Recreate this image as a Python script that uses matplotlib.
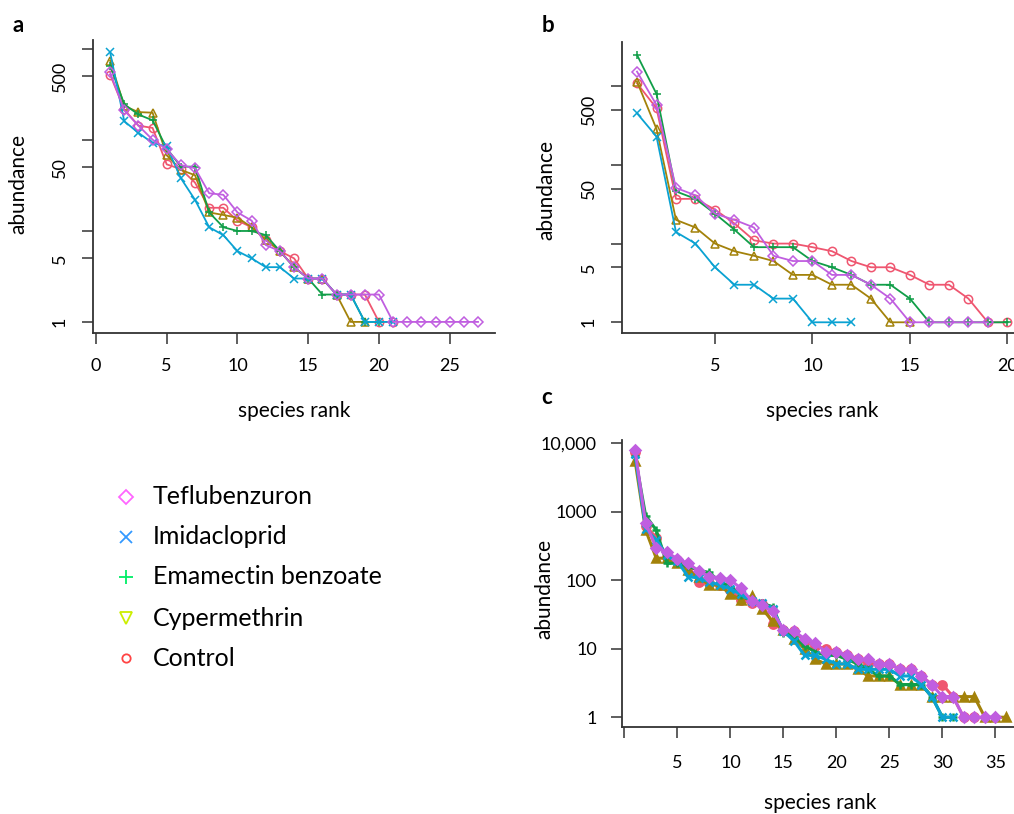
import matplotlib
matplotlib.use("Agg")
import matplotlib.pyplot as plt

plt.rcParams['font.family'] = ['Lato', 'DejaVu Sans']

W, H = 1014, 814

series_names = ["Teflubenzuron", "Imidacloprid", "Emamectin benzoate", "Cypermethrin", "Control"]

# Panel a
a_tef = [555, 212, 144, 101, 79, 53, 49, 26, 25, 16, 13, 7, 6, 4, 3, 3, 2, 2, 2, 2, 1, 1, 1, 1, 1, 1, 1]
a_imi = [926, 161, 120, 93, 85, 38, 22, 11, 9, 6, 5, 4, 4, 3, 3, 3, 2, 2, 1, 1, 1]
a_ema = [659, 247, 191, 165, 81, 51, 51, 16, 11, 10, 10, 9, 6, 4, 3, 2, 2, 2, 1, 1]
a_cyp = [749, 237, 203, 200, 68, 47, 41, 16, 15, 14, 11, 8, 6, 4, 3, 3, 2, 1, 1]
a_ctl = [524, 217, 144, 136, 54, 48, 34, 18, 18, 13, 11, 8, 6, 5, 3, 3, 2, 2, 2, 1, 1]

# Panel b
b_tef = [1531, 577, 51, 41, 24, 20, 16, 7, 6, 6, 4, 4, 3, 2, 1, 1, 1, 1, 1]
b_imi = [453, 229, 14, 10, 5, 3, 3, 2, 2, 1, 1, 1]
b_ema = [2495, 797, 46, 37, 24, 15, 9, 9, 9, 6, 5, 4, 3, 3, 2, 1, 1, 1, 1, 1]
b_cyp = [1143, 286, 20, 16, 10, 8, 7, 6, 4, 4, 3, 3, 2, 1, 1]
b_ctl = [1088, 524, 37, 37, 27, 18, 11, 10, 10, 9, 8, 6, 5, 5, 4, 3, 3, 2, 1, 1]

# Panel c
c_tef = [8000, 680, 300, 256, 205, 177, 137, 113, 109, 101, 76, 50, 43, 35, 19, 18, 14, 12, 9, 9,
         8, 7, 7, 6, 6, 5, 5, 4, 3, 2, 2, 1, 1, 1, 1]
c_imi = [7000, 560, 390, 230, 190, 113, 108, 95, 85, 75, 62, 50, 46, 38, 18, 13, 8, 8, 7, 6,
         6, 5, 5, 5, 5, 4, 4, 3, 2, 1, 1]
c_ema = [6500, 880, 540, 177, 177, 160, 140, 130, 95, 81, 61, 49, 46, 41, 17, 15, 11, 9, 8, 8,
         7, 6, 5, 4, 4, 3, 3, 3, 2, 1, 1]
c_cyp = [5600, 540, 210, 210, 177, 141, 113, 85, 85, 62, 52, 58, 38, 25, 19, 14, 10, 7, 6, 6,
         6, 5, 4, 4, 4, 3, 3, 3, 2, 2, 2, 2, 2, 1, 1, 1]
c_ctl = [7500, 620, 420, 220, 198, 158, 95, 90, 85, 72, 52, 46, 45, 23, 19, 18, 13, 11, 10, 9,
         8, 7, 6, 6, 6, 5, 5, 4, 3, 3, 2, 1, 1]

line_colors = {"Teflubenzuron": "#C05EE0", "Imidacloprid": "#0AA2D2",
               "Emamectin benzoate": "#109E48", "Cypermethrin": "#A3820A", "Control": "#EF5670"}
line_markers = {"Teflubenzuron": "D", "Imidacloprid": "x", "Emamectin benzoate": "+",
                "Cypermethrin": "^", "Control": "o"}
legend_colors = ["#FF66FF", "#3399FF", "#00EE66", "#CCEE00", "#FF4444"]
legend_markers = ["D", "x", "+", "v", "o"]

fig = plt.figure(figsize=(W / 100, H / 100), dpi=100)


def rect(l, t, r, b):
    return [l / W, 1 - b / H, (r - l) / W, (b - t) / H]


def draw(ax, data, lw, ms, mew, filled=False):
    order = ["Control", "Cypermethrin", "Emamectin benzoate", "Imidacloprid", "Teflubenzuron"]
    for name in order:
        vals = data[name]
        ranks = list(range(1, len(vals) + 1))
        m = line_markers[name]
        ms_ = ms * (0.8 if m == "D" else 1.0)
        ax.plot(ranks, vals, color=line_colors[name], lw=lw, marker=m, ms=ms_,
                mfc="none" if not filled else line_colors[name], mec=line_colors[name], mew=mew)


def style(ax):
    ax.set_yscale("log")
    for s in ["top", "right"]:
        ax.spines[s].set_visible(False)
    for s in ["left", "bottom"]:
        ax.spines[s].set_linewidth(1.3)
        ax.spines[s].set_color("#333333")
    ax.tick_params(axis="both", which="major", length=8, width=1.1, color="#333333",
                   labelsize=13, pad=10)
    ax.tick_params(axis="y", which="minor", length=0)
    ax.yaxis.set_minor_formatter(matplotlib.ticker.NullFormatter())


LAB = 15

# ---- panel a ----
axa = fig.add_axes(rect(93, 40, 495, 333))
draw(axa, {"Teflubenzuron": a_tef, "Imidacloprid": a_imi, "Emamectin benzoate": a_ema,
           "Cypermethrin": a_cyp, "Control": a_ctl}, lw=1.3, ms=6, mew=1.1)
style(axa)
axa.set_xlim(-0.21, 28.2)
axa.set_ylim(0.755, 1260)
axa.set_xticks([0, 5, 10, 15, 20, 25])
axa.set_yticks([1, 5, 10, 50, 100, 500, 1000])
axa.set_yticklabels(["1", "5", "", "50", "", "500", ""], rotation=90, va="center")
axa.set_xlabel("species rank", fontsize=LAB)
axa.set_ylabel("abundance", fontsize=LAB)
axa.xaxis.set_label_coords(0.5, -(401 - 333) / 293)
axa.yaxis.set_label_coords((28 - 93) / 402, 0.51)

# ---- panel b ----
axb = fig.add_axes(rect(622, 42, 1030, 333))
draw(axb, {"Teflubenzuron": b_tef, "Imidacloprid": b_imi, "Emamectin benzoate": b_ema,
           "Cypermethrin": b_cyp, "Control": b_ctl}, lw=1.3, ms=6, mew=1.1)
style(axb)
axb.set_xlim(0.23, 21.16)
axb.set_ylim(0.731, 3640)
axb.set_xticks([5, 10, 15, 20])
axb.set_yticks([1, 5, 10, 50, 100, 500, 1000])
axb.set_yticklabels(["1", "5", "", "50", "", "500", ""], rotation=90, va="center")
axb.set_xlabel("species rank", fontsize=LAB)
axb.set_ylabel("abundance", fontsize=LAB)
axb.xaxis.set_label_coords((822 - 622) / 408, -(401 - 333) / 291)
axb.yaxis.set_label_coords((556 - 622) / 408, 0.49)

# ---- panel c ----
axc = fig.add_axes(rect(622, 440, 1030, 727))
draw(axc, {"Teflubenzuron": c_tef, "Imidacloprid": c_imi, "Emamectin benzoate": c_ema,
           "Cypermethrin": c_cyp, "Control": c_ctl}, lw=2.2, ms=6, mew=1.8, filled=True)
style(axc)
axc.tick_params(axis="x", pad=12)
axc.set_xlim(-0.23, 38.26)
axc.set_ylim(0.72, 11170)
axc.set_xticks([0, 5, 10, 15, 20, 25, 30, 35])
axc.set_xticklabels(["", "5", "10", "15", "20", "25", "30", "35"])
axc.set_yticks([1, 10, 100, 1000, 10000])
axc.set_yticklabels(["1", "10", "100", "1000", "10,000"])
axc.set_xlabel("species rank", fontsize=LAB)
axc.set_ylabel("abundance", fontsize=LAB)
axc.xaxis.set_label_coords((820 - 622) / 408, -(793 - 727) / 287)
axc.yaxis.set_label_coords((554 - 622) / 408, 0.48)

# panel letters
fig.text(18 / W, 1 - 25 / H, "a", fontsize=16, fontweight="bold", ha="center", va="center")
fig.text(548 / W, 1 - 25 / H, "b", fontsize=16, fontweight="bold", ha="center", va="center")
fig.text(547 / W, 1 - 398 / H, "c", fontsize=16, fontweight="bold", ha="center", va="center")

# legend
axl = fig.add_axes([0, 0, 1, 1])
axl.set_xlim(0, W)
axl.set_ylim(H, 0)
axl.axis("off")
leg_y = [497, 537, 577, 618, 658]
for name, col, mk, y in zip(series_names, legend_colors, legend_markers, leg_y):
    size = {"D": 7, "x": 8, "+": 10, "v": 9, "o": 6}[mk]
    axl.plot([126], [y], marker=mk, ms=size, mfc="none", mec=col, mew=1.3, ls="none")
    axl.text(153, y, name, fontsize=18, va="center", ha="left")

fig.savefig("out.png", dpi=100)
